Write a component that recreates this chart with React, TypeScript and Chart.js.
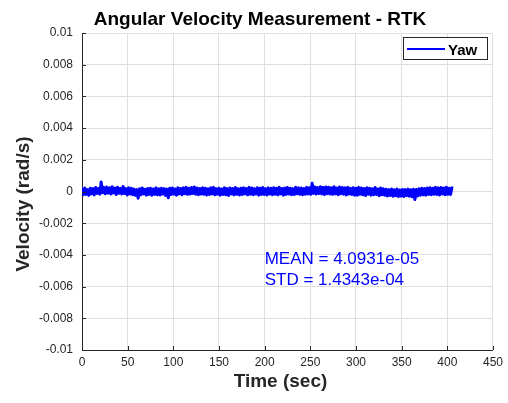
import React, { useEffect, useRef } from "react";
import { Chart, registerables } from "chart.js";

Chart.register(...registerables);

const titleText = "Angular Velocity Measurement - RTK";
const xTitle = "Time (sec)";
const yTitle = "Velocity (rad/s)";
const seriesName = "Yaw";
const meanText = "MEAN = 4.0931e-05";
const stdText = "STD = 1.4343e-04";

const xMin = 0;
const xMax = 450;
const xStep = 50;
const yMin = -0.01;
const yMax = 0.01;
const yStep = 0.002;

const sampleStart = 0;
const sampleStep = 1.5;

// Yaw angular velocity samples (rad/s)
const yaw = [
  0.00015, -0.0002, 0.00022, -0.00018, 0.00012, -0.00024, 0.0002, -0.00015, 0.00018, -0.00021,
  0.00025, -0.00012, 0.00019, -0.00017, 0.0006, -0.00008, 0.00026, -0.00014, 0.00028, -0.0001,
  0.00024, -0.00016, 0.0003, -0.00009, 0.00022, -0.00019, 0.00027, -0.00011, 0.0002, -0.00015,
  0.00032, -0.00013, 0.00018, -0.00022, 0.00024, -0.00016, 0.00021, -0.0002, 0.00015, -0.00024,
  0.00012, -0.00042, 0.00018, -0.0002, 0.00022, -0.00016, 0.00014, -0.00023, 0.00019, -0.00018,
  0.00021, -0.00024, 0.00016, -0.00019, 0.00023, -0.00021, 0.00017, -0.00022, 0.0002, -0.00016,
  0.00018, -0.00025, 0.00015, -0.0004, 0.0002, -0.00019, 0.00022, -0.00017, 0.00016, -0.00023,
  0.00024, -0.00015, 0.00019, -0.0002, 0.00023, -0.00014, 0.00026, -0.00018, 0.00021, -0.00016,
  0.00025, -0.00013, 0.00028, -0.00017, 0.00022, -0.0002, 0.00019, -0.00016, 0.00024, -0.00018,
  0.0002, -0.00022, 0.00017, -0.00019, 0.00023, -0.00015, 0.00026, -0.00021, 0.00018, -0.00017,
  0.0002, -0.00023, 0.00016, -0.00019, 0.00024, -0.0002, 0.00018, -0.00025, 0.00022, -0.00016,
  0.00019, -0.00021, 0.00025, -0.00018, 0.00017, -0.00022, 0.00021, -0.00019, 0.00023, -0.00015,
  0.00019, -0.00021, 0.00026, -0.00017, 0.00022, -0.0002, 0.00018, -0.00016, 0.00024, -0.00023,
  0.0002, -0.00018, 0.00025, -0.00019, 0.00017, -0.00022, 0.00023, -0.00016, 0.00021, -0.0002,
  0.00024, -0.00017, 0.0002, -0.00021, 0.00026, -0.00015, 0.00019, -0.00023, 0.00022, -0.00018,
  0.00025, -0.00016, 0.00021, -0.0002, 0.00018, -0.00019, 0.00027, -0.00014, 0.00023, -0.00018,
  0.00022, -0.0002, 0.00019, -0.00017, 0.00026, -0.00015, 0.00024, -0.00018, 0.00052, -0.00012,
  0.00028, -0.00016, 0.00025, -0.00013, 0.0003, -0.00015, 0.00026, -0.00019, 0.00029, -0.00014,
  0.00027, -0.00016, 0.00024, -0.00018, 0.0003, -0.00015, 0.00022, -0.0002, 0.00028, -0.00014,
  0.00025, -0.00017, 0.00023, -0.00022, 0.00026, -0.00016, 0.00021, -0.00019, 0.00024, -0.00023,
  0.0002, -0.00024, 0.00026, -0.00018, 0.00022, -0.00021, 0.00019, -0.00025, 0.00024, -0.00017,
  0.00021, -0.00023, 0.00018, -0.0002, 0.00025, -0.00019, 0.00016, -0.00026, 0.00022, -0.00021,
  0.00017, -0.00024, 0.00014, -0.00028, 0.00012, -0.00025, 0.00016, -0.0003, 0.00011, -0.00027,
  0.00015, -0.00031, 0.0001, -0.00029, 0.00013, -0.00032, 0.00012, -0.00026, 0.00015, -0.0003,
  0.00011, -0.00033, 0.00014, -0.0005, 0.00012, -0.00028, 0.00018, -0.00024, 0.0002, -0.00021,
  0.00019, -0.00023, 0.00022, -0.00018, 0.00024, -0.0002, 0.00021, -0.00017, 0.00026, -0.00019,
  0.00023, -0.00022, 0.00025, -0.00016, 0.00022, -0.0002, 0.00027, -0.00018, 0.00021, -0.00019,
  0.00024,
];

const FONT = "'Liberation Sans', Arial, Helvetica, sans-serif";
const AXIS_COLOR = "#262626";
const GRID_COLOR = "#dfdfdf";
const BLUE = "#0000ff";

const decorPlugin = {
  id: "decor",
  afterDraw(chart: any) {
    const ctx = chart.ctx as CanvasRenderingContext2D;
    const xs = chart.scales.x;
    const ys = chart.scales.y;
    const area = chart.chartArea;
    ctx.save();

    // inward tick marks
    ctx.strokeStyle = AXIS_COLOR;
    ctx.lineWidth = 1;
    ctx.beginPath();
    xs.ticks.forEach((t: any) => {
      const px = Math.round(xs.getPixelForValue(t.value)) + 0.5;
      ctx.moveTo(px, area.bottom);
      ctx.lineTo(px, area.bottom - 4);
    });
    ys.ticks.forEach((t: any) => {
      const py = Math.round(ys.getPixelForValue(t.value)) + 0.5;
      ctx.moveTo(area.left, py);
      ctx.lineTo(area.left + 4, py);
    });
    ctx.stroke();

    // title
    ctx.fillStyle = "#000000";
    ctx.font = `bold 19px ${FONT}`;
    ctx.textAlign = "center";
    ctx.textBaseline = "alphabetic";
    ctx.fillText(titleText, 260, 25);

    // x axis title
    ctx.fillStyle = AXIS_COLOR;
    ctx.fillText(xTitle, 280.5, 387);

    // y axis title
    ctx.save();
    ctx.translate(28.5, 204);
    ctx.rotate(-Math.PI / 2);
    ctx.fillText(yTitle, 0, 0);
    ctx.restore();

    // annotations
    ctx.fillStyle = BLUE;
    ctx.font = `17px ${FONT}`;
    ctx.textAlign = "left";
    ctx.textBaseline = "middle";
    ctx.fillText(meanText, xs.getPixelForValue(200), ys.getPixelForValue(-0.00425));
    ctx.fillText(stdText, xs.getPixelForValue(200), ys.getPixelForValue(-0.0056));

    // legend
    const lx = 403.5, ly = 37.5, lw = 84, lh = 22;
    ctx.fillStyle = "#ffffff";
    ctx.fillRect(lx, ly, lw, lh);
    ctx.strokeStyle = AXIS_COLOR;
    ctx.lineWidth = 1;
    ctx.strokeRect(lx, ly, lw, lh);
    ctx.strokeStyle = BLUE;
    ctx.lineWidth = 2;
    ctx.beginPath();
    ctx.moveTo(407, 49);
    ctx.lineTo(445, 49);
    ctx.stroke();
    ctx.fillStyle = "#000000";
    ctx.font = `bold 15px ${FONT}`;
    ctx.textBaseline = "alphabetic";
    ctx.fillText(seriesName, 448, 54.5);

    ctx.restore();
  },
};

export default function App() {
  const canvasRef = useRef<HTMLCanvasElement | null>(null);

  useEffect(() => {
    document.body.style.margin = "0";
    const canvas = canvasRef.current;
    if (!canvas) return;
    const points = yaw.map((v, i) => ({ x: sampleStart + i * sampleStep, y: v }));
    const chart = new Chart(canvas, {
      type: "line",
      data: {
        datasets: [
          {
            label: seriesName,
            data: points,
            borderColor: BLUE,
            backgroundColor: BLUE,
            borderWidth: 3,
            borderJoinStyle: "round",
            borderCapStyle: "round",
            pointRadius: 0,
            tension: 0,
            fill: false,
          },
        ],
      },
      options: {
        animation: false,
        responsive: true,
        maintainAspectRatio: false,
        layout: { padding: { left: 0, right: 10, top: 33, bottom: 0 } },
        plugins: {
          legend: { display: false },
          title: { display: false },
          tooltip: { enabled: false },
        },
        scales: {
          x: {
            type: "linear",
            min: xMin,
            max: xMax,
            afterFit: (scale: any) => {
              scale.height = 53;
            },
            ticks: {
              stepSize: xStep,
              color: AXIS_COLOR,
              font: { family: FONT, size: 12 },
              padding: 5,
              maxRotation: 0,
              autoSkip: false,
            },
            grid: { color: GRID_COLOR, drawTicks: false, lineWidth: 1 },
            border: { display: true, color: AXIS_COLOR, width: 1 },
          },
          y: {
            type: "linear",
            min: yMin,
            max: yMax,
            afterFit: (scale: any) => {
              scale.width = 82;
            },
            ticks: {
              stepSize: yStep,
              color: AXIS_COLOR,
              font: { family: FONT, size: 12 },
              padding: 9,
              autoSkip: false,
              callback: (v: any) => {
                const r = Math.round(Number(v) * 1000) / 1000;
                return r === 0 ? "0" : String(r);
              },
            },
            grid: { color: GRID_COLOR, drawTicks: false, lineWidth: 1 },
            border: { display: true, color: AXIS_COLOR, width: 1 },
          },
        },
      },
      plugins: [decorPlugin],
    });
    return () => chart.destroy();
  }, []);

  return (
    <div style={{ width: 508, height: 403, position: "relative", background: "#ffffff" }}>
      <canvas ref={canvasRef} />
    </div>
  );
}
